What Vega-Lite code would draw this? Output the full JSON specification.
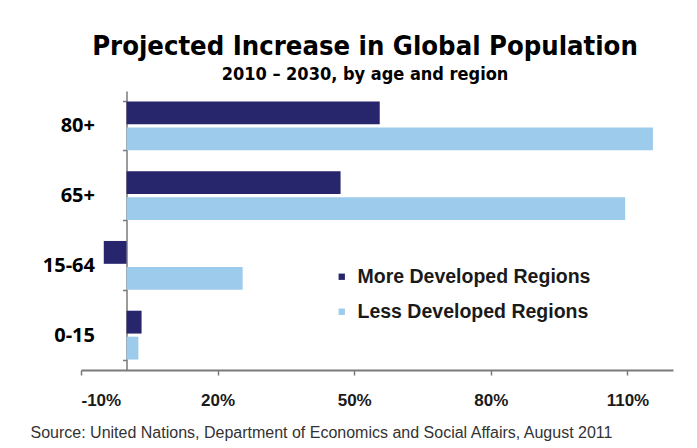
{
  "$schema": "https://vega.github.io/schema/vega-lite/v6.json",
  "autosize": {"type": "none"},
  "padding": {"left": 81, "top": 91, "right": 24, "bottom": 78},
  "width": 592,
  "height": 279,
  "background": "white",
  "title": {
    "text": "Projected Increase in Global Population",
    "subtitle": "2010 – 2030, by age and region",
    "anchor": "middle",
    "dx": -12,
    "offset": -4,
    "font": "DejaVu Sans Condensed, Roboto Condensed, Roboto",
    "fontSize": 27.2,
    "fontWeight": "bold",
    "color": "#000000",
    "subtitleFont": "DejaVu Sans Condensed, Roboto Condensed, Roboto",
    "subtitleFontSize": 18,
    "subtitleFontWeight": "bold",
    "subtitleColor": "#000000",
    "subtitlePadding": 5
  },
  "data": {
    "values": [
      {"age": "80+", "region": "More Developed Regions", "pct": 55.6},
      {"age": "80+", "region": "Less Developed Regions", "pct": 115.6},
      {"age": "65+", "region": "More Developed Regions", "pct": 47.0},
      {"age": "65+", "region": "Less Developed Regions", "pct": 109.5},
      {"age": "15-64", "region": "More Developed Regions", "pct": -5.0},
      {"age": "15-64", "region": "Less Developed Regions", "pct": 25.5},
      {"age": "0-15", "region": "More Developed Regions", "pct": 3.3},
      {"age": "0-15", "region": "Less Developed Regions", "pct": 2.6}
    ]
  },
  "mark": {"type": "bar"},
  "encoding": {
    "y": {
      "field": "age",
      "type": "nominal",
      "sort": ["80+", "65+", "15-64", "0-15"],
      "scale": {"paddingInner": 0.3, "paddingOuter": 0.15},
      "axis": {
        "title": null,
        "offset": -45.5,
        "domainColor": "#7a7a7a",
        "domainWidth": 1.5,
        "tickBand": "extent",
        "ticks": true,
        "tickSize": 4,
        "tickColor": "#7a7a7a",
        "tickWidth": 1.5,
        "labelPadding": 28,
        "labelFont": "Open Sans",
        "labelFontWeight": "bold",
        "labelFontSize": 20,
        "labelColor": "#000000"
      }
    },
    "yOffset": {
      "field": "region",
      "type": "nominal",
      "sort": ["More Developed Regions", "Less Developed Regions"],
      "scale": {"paddingInner": 0.12, "paddingOuter": 0}
    },
    "x": {
      "field": "pct",
      "type": "quantitative",
      "scale": {"domain": [-10, 120], "nice": false, "zero": false},
      "axis": {
        "title": "Source: United Nations, Department of Economics and Social Affairs, August 2011",
        "titleFont": "Liberation Sans",
        "titleFontSize": 16,
        "titleFontWeight": "normal",
        "titleColor": "#333333",
        "titleAnchor": "start",
        "titleAlign": "left",
        "titleBaseline": "alphabetic",
        "titleX": -51,
        "titleY": 67,
        "titleLimit": 700,
        "values": [-10, 20, 50, 80, 110],
        "labelExpr": "datum.value + '%'",
        "grid": false,
        "domainColor": "#7a7a7a",
        "domainWidth": 2,
        "tickColor": "#7a7a7a",
        "tickSize": 5,
        "tickWidth": 1.5,
        "labelPadding": 17,
        "labelFont": "Liberation Sans",
        "labelFontWeight": "bold",
        "labelFontSize": 17,
        "labelColor": "#1a1a1a"
      }
    },
    "color": {
      "field": "region",
      "type": "nominal",
      "sort": ["More Developed Regions", "Less Developed Regions"],
      "scale": {
        "domain": ["More Developed Regions", "Less Developed Regions"],
        "range": ["#27256c", "#9dcbeb"]
      },
      "legend": {
        "title": null,
        "orient": "none",
        "legendX": 251,
        "legendY": 176,
        "symbolType": "square",
        "symbolSize": 40,
        "symbolStrokeWidth": 0,
        "labelFont": "Liberation Sans",
        "labelFontWeight": "bold",
        "labelFontSize": 19.5,
        "labelColor": "#1a1a1a",
        "labelOffset": 6,
        "labelLimit": 400,
        "rowPadding": 14
      }
    }
  },
  "config": {
    "view": {"stroke": null}
  }
}
